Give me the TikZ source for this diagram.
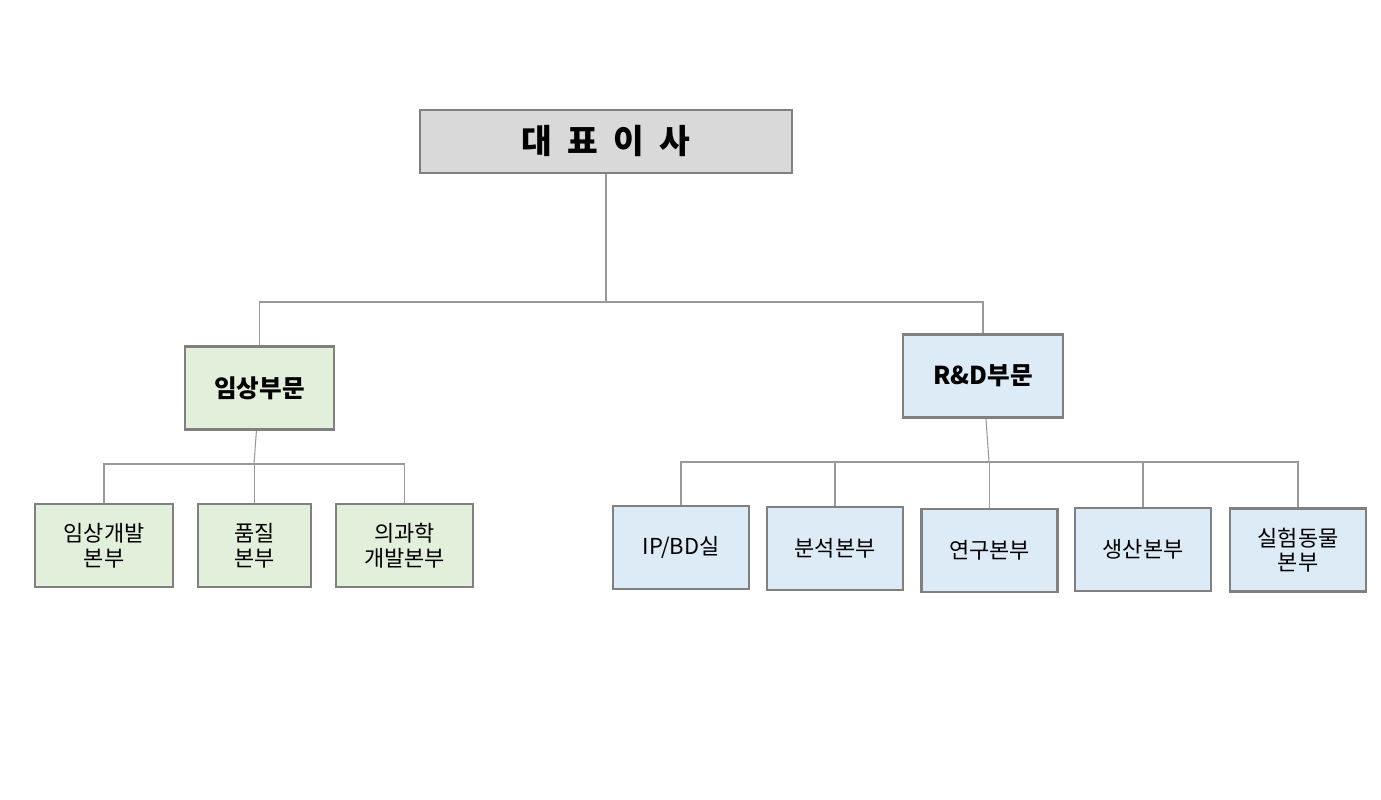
\documentclass[tikz,border=0pt]{standalone}
\usepackage{fontspec}
\setmainfont{Noto Sans CJK KR}
\definecolor{boxline}{HTML}{808080}
\definecolor{ceofill}{HTML}{D9D9D9}
\definecolor{clinfill}{HTML}{E2EFDA}
\definecolor{rndfill}{HTML}{DDEBF7}
\tikzset{
  box/.style={draw=boxline, line width=1.6pt, align=center, inner sep=0pt},
  ceobox/.style={box, fill=ceofill, minimum width=7.44cm, minimum height=1.26cm, font=\fontsize{19}{22}\selectfont\bfseries},
  divbox/.style={box, minimum height=1.66cm, font=\fontsize{14}{17}\selectfont\bfseries},
  leaf/.style={box, minimum width=2.72cm, minimum height=1.66cm, font=\fontsize{12.5}{14}\selectfont},
  link/.style={draw=boxline!80, line width=0.6pt}
}
\begin{document}
\begin{tikzpicture}[x=0.02cm, y=-0.02cm]
    \useasboundingbox (0,0) rectangle (1381,800);

    % Top
    \node[ceobox] (ceo) at (606,141.5) {대\ \ 표\ \ 이\ \ 사};

    % Divisions
    \node[divbox, fill=clinfill, minimum width=2.98cm] (clin) at (259.5,388) {임상부문};
    \node[divbox, fill=rndfill, minimum width=3.2cm] (rnd) at (983,376) {R\&D부문};

    % Clinical units
    \node[leaf, fill=clinfill, minimum width=2.76cm] (cdev) at (104,545.5) {임상개발\\본부};
    \node[leaf, fill=clinfill, minimum width=2.26cm] (qual) at (254.5,545.5) {품질\\본부};
    \node[leaf, fill=clinfill, minimum width=2.74cm] (msci) at (404.5,545.5) {의과학\\개발본부};

    % R&D units
    \node[leaf, fill=rndfill] (ipbd) at (681,547.5) {IP/BD실};
    \node[leaf, fill=rndfill] (anal) at (835,548.5) {분석본부};
    \node[leaf, fill=rndfill] (res) at (989.5,550.5) {연구본부};
    \node[leaf, fill=rndfill] (prod) at (1143,549.5) {생산본부};
    \node[leaf, fill=rndfill] (anim) at (1298,550) {실험동물\\본부};

    % Bus points
    \coordinate (topbus) at (606,302);
    \coordinate (clinbus) at (254,464);
    \coordinate (rndbus) at (989,462);

    % Connectors
    \draw[link] (ceo) -- (topbus);
    \draw[link] (clin.north) |- (topbus) -| (rnd.north);
    \draw[link] (clin) -- (clinbus);
    \foreach \n in {cdev,qual,msci}
        \draw[link] (\n.north) |- (clinbus);
    \draw[link] (rnd) -- (rndbus);
    \foreach \n in {ipbd,anal,res,prod,anim}
        \draw[link] (\n.north) |- (rndbus);
\end{tikzpicture}
\end{document}
